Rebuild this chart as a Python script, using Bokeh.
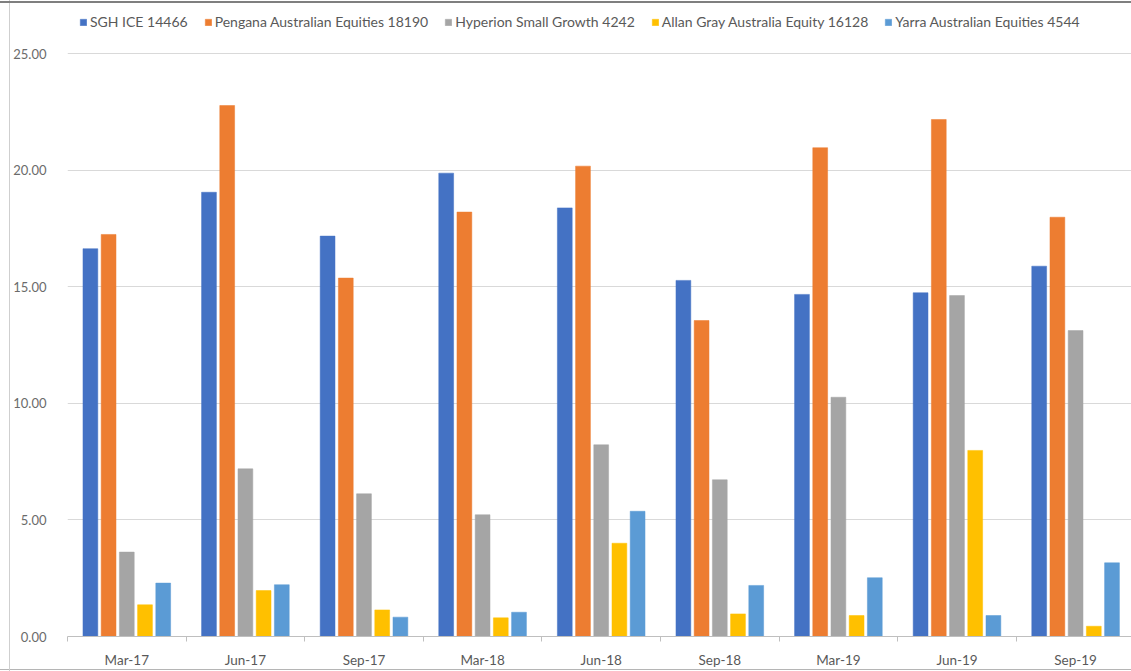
from bokeh.plotting import figure
from bokeh.models import ColumnDataSource, Range1d, FixedTicker, Legend, LegendItem, NumeralTickFormatter
from bokeh.transform import dodge
from bokeh.embed import file_html
from bokeh.resources import INLINE

categories = ["Mar-17", "Jun-17", "Sep-17", "Mar-18", "Jun-18", "Sep-18", "Mar-19", "Jun-19", "Sep-19"]
sgh_ice_14466 = [16.63, 19.05, 17.17, 19.87, 18.38, 15.27, 14.67, 14.74, 15.88]
pengana_18190 = [17.24, 22.77, 15.37, 18.20, 20.17, 13.55, 20.96, 22.17, 17.98]
hyperion_4242 = [3.62, 7.19, 6.12, 5.22, 8.22, 6.72, 10.26, 14.62, 13.12]
allan_gray_16128 = [1.36, 1.97, 1.14, 0.80, 4.00, 0.97, 0.90, 7.98, 0.44]
yarra_4544 = [2.29, 2.22, 0.83, 1.04, 5.37, 2.19, 2.52, 0.90, 3.16]

series_names = ["SGH ICE 14466", "Pengana Australian Equities 18190", "Hyperion Small Growth 4242",
                "Allan Gray Australia Equity 16128", "Yarra Australian Equities 4544"]
series_values = [sgh_ice_14466, pengana_18190, hyperion_4242, allan_gray_16128, yarra_4544]
colors = ["#4472C4", "#ED7D31", "#A5A5A5", "#FFC000", "#5B9BD5"]

FONT = "Lato"
centers = [i + 0.5 for i in range(len(categories))]
data = {"xc": centers}
keys = ["s0", "s1", "s2", "s3", "s4"]
for k, vals in zip(keys, series_values):
    data[k] = vals
src = ColumnDataSource(data)

PX_PER_UNIT = 23.32
p = figure(width=1131, height=671, output_backend="svg", toolbar_location=None,
           x_range=Range1d(0, 1064 / 118.6), y_range=Range1d(0, 25 + 48 / PX_PER_UNIT),
           min_border_left=67, min_border_right=0, min_border_top=5, min_border_bottom=35)
p.outline_line_color = None
p.background_fill_color = "white"
p.border_fill_alpha = 0
p.styles = {
    "background-color": "white",
    "background-repeat": "no-repeat",
    "background-image": (
        "linear-gradient(to bottom, transparent 1px, #7f7f7f 1px, #7f7f7f 3px, transparent 3px), "
        "linear-gradient(to right, transparent 9px, #cfcfcf 9px, #cfcfcf 10px, transparent 10px), "
        "linear-gradient(to top, transparent 1px, #b5b5b5 1px, #b5b5b5 2px, transparent 2px)"
    ),
}

offsets = [-0.307, -0.1535, 0.0, 0.1535, 0.307]
items = []
for k, name, col, off in zip(keys, series_names, colors, offsets):
    r = p.vbar(x=dodge("xc", off, range=p.x_range), top=k, width=0.125, source=src,
               fill_color=col, line_color=col, line_width=0.5)
    items.append(LegendItem(label=name, renderers=[r]))

# y axis
p.yaxis.ticker = FixedTicker(ticks=[0, 5, 10, 15, 20, 25])
p.yaxis.formatter = NumeralTickFormatter(format="0.00")
p.yaxis.axis_line_color = None
p.yaxis.major_tick_line_color = None
p.yaxis.minor_tick_line_color = None
p.yaxis.major_label_standoff = 15
p.yaxis.major_label_text_font = FONT
p.yaxis.major_label_text_font_size = "13px"
p.yaxis.major_label_text_color = "#6b6b6b"
p.ygrid.grid_line_color = "#D9D9D9"
p.ygrid.grid_line_width = 1

# x axis
p.xaxis.ticker = FixedTicker(ticks=centers, minor_ticks=list(range(len(categories) + 1)))
p.xaxis.major_label_overrides = {c: lab for c, lab in zip(centers, categories)}
p.xaxis.major_tick_line_color = None
p.xaxis.minor_tick_line_color = "#BFBFBF"
p.xaxis.minor_tick_in = 0
p.xaxis.minor_tick_out = 5
p.xaxis.axis_line_color = "#BFBFBF"
p.xaxis.major_label_standoff = 9
p.xaxis.major_label_text_font = FONT
p.xaxis.major_label_text_font_size = "13.5px"
p.xaxis.major_label_text_color = "#595959"
p.xgrid.grid_line_color = None

legend = Legend(items=items, orientation="horizontal", location=(12, 606),
                glyph_width=8, glyph_height=8, label_standoff=3, spacing=16, padding=0, margin=0,
                label_text_font=FONT, label_text_font_size="14px", label_text_color="#595959",
                border_line_color=None, background_fill_alpha=0)
p.add_layout(legend, "center")

open("out.html", "w").write(file_html(p, INLINE))
